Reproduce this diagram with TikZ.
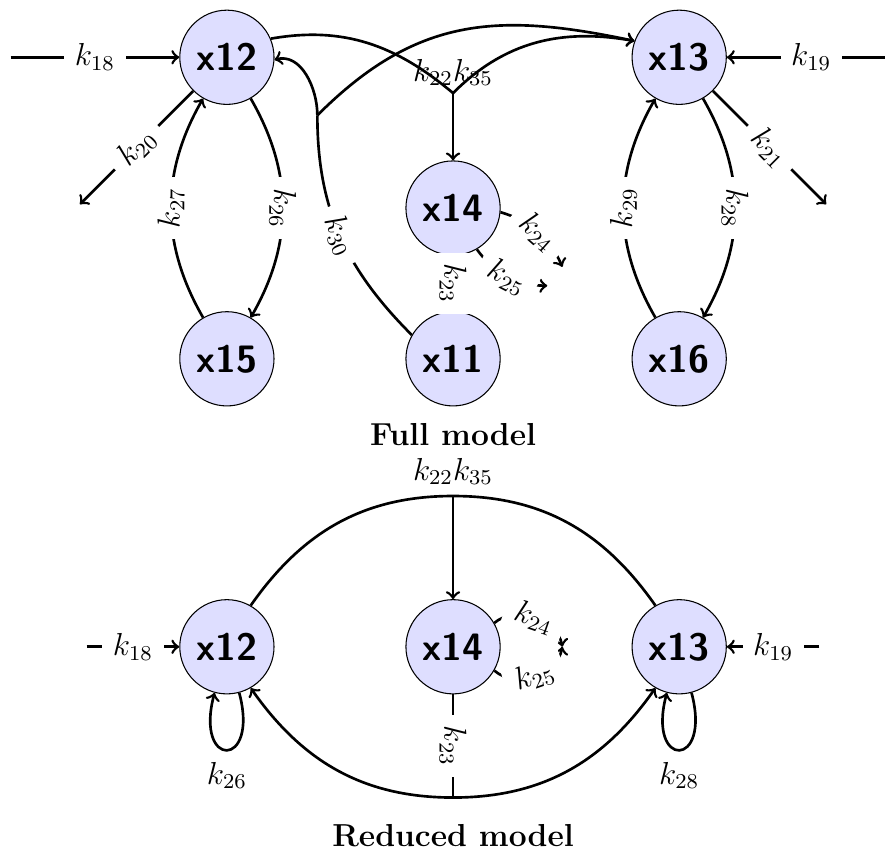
\documentclass[12pt,tikz,border=0pt]{standalone}
\usepackage{xcolor}
\usepackage{tikz}
\usetikzlibrary{positioning,calc}

\begin{document}
\begin{tikzpicture}[
    node distance=2cm and 3cm,
    on grid,
    species/.style={shape=circle, draw, fill=blue!13, minimum size=1.25cm, inner sep=0pt, font=\sffamily\bfseries\large},
    rate/.style={fill=white, sloped},
    line/.style={draw, ->, line width=1pt},
    title/.style={font=\bfseries}
]
    \useasboundingbox (-6.01,2.76) rectangle (5.73,-8.54);

    % full model
    \node [species] (x14) {x14};
    \node [species, above left=of x14] (x12) {x12};
    \node [species, above right=of x14] (x13) {x13};
    \node [species, below left=of x14] (x15) {x15};
    \node [species, below=of x14] (x11) {x11};
    \node [species, below right=of x14] (x16) {x16};
    \node [title] (fulltitle) at ($(x11)+(0,-1)$) {Full model};

    \coordinate [left=2.87cm of x12] (in18);
    \coordinate [right=2.87cm of x13] (in19);
    \coordinate (out20) at ($(x12)+(-1.95,-1.95)$);
    \coordinate (out21) at ($(x13)+(1.95,-1.95)$);
    \coordinate (out24) at ($(x14)+(1.45,-0.78)$);
    \coordinate (out25) at ($(x14)+(1.25,-1.03)$);
    \coordinate (j30) at ($(x14)+(-1.8,1.23)$);
    \coordinate (j22) at ($(x14)+(0,1.525)$);

    \draw [line] (in18) -- node [rate] {$k_{18}$} (x12);
    \draw [line] (in19) -- node [rate] {$k_{19}$} (x13);
    \draw [line] (x12) -- node [rate] {$k_{20}$} (out20);
    \draw [line] (x13) -- node [rate] {$k_{21}$} (out21);
    \draw [line] (x12) to [bend left=30] node [rate, allow upside down] {$k_{26}$} (x15);
    \draw [line] (x15) to [bend left=30] node [rate, allow upside down] {$k_{27}$} (x12);
    \draw [line] (x13) to [bend left=30] node [rate, allow upside down] {$k_{28}$} (x16);
    \draw [line] (x16) to [bend left=30] node [rate, allow upside down] {$k_{29}$} (x13);
    \draw [line] (x14) -- node [rate, allow upside down] {$k_{23}$} (x11);
    \draw [line] (x14.-5) to [bend left=25] node [rate] {$k_{24}$} (out24);
    \draw [line] (x14.-60) to [bend right=27] node [rate] {$k_{25}$} (out25);
    \draw [line width=1pt] (x11.150) to [out=135, in=-90] node [rate] {$k_{30}$} (j30);
    \draw [line] (j30) to [out=90, in=15] (x12.-3);
    \draw [line] (j30) to [out=45, in=168, looseness=1.1] (x13.160);
    \draw [line width=1pt] (x12.23) to [out=10, in=140] (j22);
    \draw [line] (j22) to [out=45, in=170] (x13.160);
    \draw [line] (j22) -- (x14);
    \node [above=-1.5pt] (k2235) at (j22) {$k_{22}k_{35}$};

    % reduced model
    \node [species] (r14) at (0,-5.82) {x14};
    \node [species, left=of r14] (r12) {x12};
    \node [species, right=of r14] (r13) {x13};
    \coordinate [left=1.86cm of r12] (rin18);
    \coordinate [right=1.86cm of r13] (rin19);
    \coordinate [right=1.45cm of r14] (rout24);
    \coordinate [above=of r14] (j4);
    \coordinate [below=of r14] (j3);
    \node [title] (redtitle) at ($(j3)+(0,-0.5)$) {Reduced model};

    \draw [line] (rin18) -- node [rate] {$k_{18}$} (r12);
    \draw [line] (rin19) -- node [rate] {$k_{19}$} (r13);
    \draw [line] (r12) to [out=-75, in=-105, looseness=8, min distance=1.05cm] node [below] {$k_{26}$} (r12);
    \draw [line] (r13) to [out=-75, in=-105, looseness=8, min distance=1.05cm] node [below] {$k_{28}$} (r13);
    \draw [line width=1pt] (r12.60) to [out=55, in=180] (j4) to [out=0, in=125] (r13.120);
    \draw [line] (j4) -- (r14);
    \node [above] (rk2235) at (j4) {$k_{22}k_{35}$};
    \draw [line] (r14.30) to [bend left=60] node [rate] {$k_{24}$} (rout24);
    \draw [line] (r14.-30) to [bend right=60] node [rate] {$k_{25}$} (rout24);
    \draw [line width=1pt] (r14) -- node [rate, allow upside down] {$k_{23}$} (j3);
    \draw [line] (j3) to [out=180, in=-55] (r12.-60);
    \draw [line] (j3) to [out=0, in=-125] (r13.-120);
\end{tikzpicture}
\end{document}
